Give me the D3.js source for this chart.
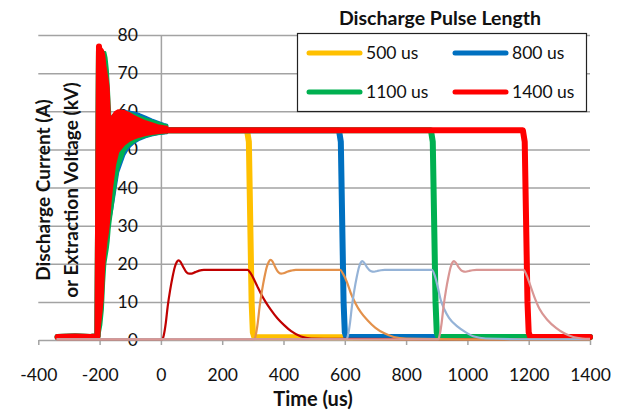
<!DOCTYPE html>
<html>
<head>
<meta charset="utf-8">
<script src="https://cdn.jsdelivr.net/npm/d3@7/dist/d3.min.js"></script>
<style>
  html, body { margin: 0; padding: 0; background: #fff; }
  svg { display: block; font-family: Lato, "Open Sans", sans-serif; }
</style>
</head>
<body>
<script>
// ---- axes ----
const xTicks = [-400, -200, 0, 200, 400, 600, 800, 1000, 1200, 1400];
const yTicks = [0, 10, 20, 30, 40, 50, 60, 70, 80];

// ---- legend ----
const pulseLabels = ["500 us", "800 us", "1100 us", "1400 us"];
const voltColors = ["#FFC000", "#0070C0", "#00B050", "#FF0000"];
const currentColors = ["#C00000", "#E3914B", "#95B3D7", "#D99694"];

// ---- extraction voltage traces (kV) ----
const volt500T = [-337, -280, -230, -207, -202, -195, 0, 100, 200, 281, 287, 296, 300, 305, 400, 700, 1000, 1400];
const volt500V = [0.8, 0.9, 0.8, 1.0, 76, 55, 55, 55, 55, 55, 52, 10, 2, 0.7, 0.7, 0.7, 0.7, 0.7];
const volt800T = [-337, -280, -230, -207, -202, -195, 0, 200, 400, 581, 587, 596, 600, 605, 800, 1100, 1400];
const volt800V = [0.8, 0.9, 0.8, 1.0, 76, 55, 55, 55, 55, 55, 52, 10, 2, 0.8, 0.8, 0.8, 0.8];
const volt1100T = [-337, -280, -230, -207, -202, -195, 0, 300, 600, 881, 887, 896, 900, 905, 1100, 1400];
const volt1100V = [0.8, 0.9, 0.8, 1.0, 76, 55, 55, 55, 55, 55, 52, 10, 2, 0.8, 0.8, 0.8];
const volt1400T = [-337, -280, -230, -207, -202, -195, 0, 300, 600, 900, 1181, 1187, 1196, 1200, 1205, 1300, 1400];
const volt1400V = [0.8, 0.9, 0.8, 1.0, 77, 55, 55, 55, 55, 55, 55, 52, 10, 2, 0.8, 0.8, 0.8];

// ringing band after switch-on: time (us) with upper / lower envelope (kV)
const ringT = [-202, -195, -190, -186, -182, -178, -174, -171, -168, -165, -160, -150, -140, -120, -105, -90, -70, -50, -30, -10, 10, 20];
const ring500Hi = [75, 75, 74, 73, 70, 66, 63, 60, 58, 57, 58, 59, 59.4, 59.4, 59, 58.4, 57.6, 57, 56.5, 56.2, 56, 56];
const ring500Lo = [40, 36, 33, 31, 30, 31, 32, 34, 36, 38, 41, 45, 48, 50.5, 51.5, 52.3, 53, 53.5, 53.9, 54.1, 54.3, 54.4];
const ring800Hi = [75, 75, 74, 73, 70, 66, 63, 60, 58, 57.5, 58.5, 59.4, 59.8, 60, 59.9, 59.7, 59.2, 58.5, 57.8, 57.2, 56.6, 56.4];
const ring800Lo = [40, 36, 33, 31, 30, 29.5, 29.5, 30, 31, 32, 34, 39, 44, 48.5, 50.5, 51.6, 52.6, 53.2, 53.7, 54, 54.2, 54.3];
const ring1100Hi = [75.5, 75.6, 75.6, 75.5, 75.5, 74, 71, 67, 62, 58, 58.5, 59.2, 59.7, 59.8, 59.6, 59.2, 58.6, 58, 57.5, 57, 56.5, 56.3];
const ring1100Lo = [1, 4, 8, 15, 20, 22, 24, 26, 29, 31, 34, 40, 45, 49.5, 51, 51.9, 52.8, 53.4, 53.8, 54.1, 54.3, 54.4];
const ring1400Hi = [77, 76.5, 76, 75, 72, 70, 68, 66, 60, 57, 58.5, 59.7, 60.2, 60, 59.5, 58.8, 58, 57.3, 56.8, 56.3, 56, 55.9];
const ring1400Lo = [2, 7, 11, 19, 23, 26, 28, 30, 33, 36, 40, 46, 49.3, 51.3, 52.2, 52.8, 53.4, 53.8, 54.1, 54.3, 54.5, 54.5];

// ---- discharge current traces (A) ----
const cur500T = [-340, 5, 10, 16, 22, 30, 38, 45, 52, 58, 64, 72, 82, 92, 100, 112, 125, 140, 200, 283, 292, 305, 315, 326, 340, 359, 380, 402, 425, 457, 490, 600, 1000, 1400];
const cur500A = [0.2, 0.2, 1.5, 4.5, 8.7, 13, 16.5, 19, 20.5, 20.9, 20.5, 19.3, 17.9, 17.4, 17.4, 17.8, 18.2, 18.4, 18.4, 18.4, 17.6, 15.7, 14, 12.2, 10.2, 7.9, 5.7, 3.9, 2.3, 0.9, 0.4, 0.3, 0.2, 0.2];
const cur800T = [-340, 305, 310, 316, 322, 330, 338, 345, 352, 358, 364, 372, 382, 392, 400, 412, 425, 440, 500, 585, 594, 607, 620, 635, 652, 674, 700, 729, 760, 800, 1000, 1400];
const cur800A = [0.2, 0.2, 1.5, 4.5, 8.7, 13, 16.5, 19, 20.5, 21, 20.6, 19.3, 17.9, 17.4, 17.5, 17.9, 18.2, 18.4, 18.4, 18.4, 17.4, 15.2, 12.2, 9.6, 7.3, 5.2, 3.2, 1.75, 0.8, 0.4, 0.2, 0.2];
const cur1100T = [-340, 606, 611, 617, 623, 631, 639, 646, 652, 657, 663, 672, 684, 696, 706, 718, 730, 745, 800, 884, 893, 903, 913, 925, 940, 968, 995, 1022, 1060, 1200, 1400];
const cur1100A = [0.2, 0.2, 1.5, 4.5, 8.7, 13, 16.5, 19, 20.3, 20.7, 20.3, 19.1, 18.1, 17.9, 18.1, 18.3, 18.4, 18.4, 18.4, 18.4, 17, 14, 10.5, 8, 5.8, 3.5, 2, 0.9, 0.4, 0.2, 0.2];
const cur1400T = [-340, 905, 910, 916, 922, 930, 938, 945, 951, 956, 962, 971, 983, 995, 1005, 1017, 1030, 1045, 1100, 1183, 1192, 1204, 1218, 1235, 1262, 1290, 1316, 1345, 1375, 1400];
const cur1400A = [0.2, 0.2, 1.5, 4.5, 8.7, 13, 16.5, 19, 20.3, 20.7, 20.3, 19.1, 18.1, 17.9, 18.1, 18.3, 18.4, 18.4, 18.4, 18.4, 17.2, 14.6, 11.4, 8.2, 5.2, 3.1, 1.75, 0.8, 0.4, 0.3];

const W = 621, H = 412;
const svg = d3.select("body").append("svg").attr("width", W).attr("height", H);

const x = d3.scaleLinear().domain([-400, 1400]).range([38.3, 590]);
const y = d3.scaleLinear().domain([0, 80]).range([340, 35]);
const gridColor = "#a3a3a3";
const plainNum = d => String(d);

// horizontal gridlines
const grid = svg.append("g")
  .attr("transform", `translate(${x(-400)},0)`)
  .call(d3.axisRight(y).tickValues(yTicks.filter(v => v > 0))
    .tickSize(x(1400) - x(-400)).tickFormat(""));
grid.select(".domain").remove();
grid.selectAll("line").attr("stroke", gridColor).attr("stroke-width", 1.5);

// vertical axis line at time 0 with its labels
const yAxis = svg.append("g")
  .attr("transform", `translate(${x(0)},0)`)
  .call(d3.axisLeft(y).tickValues(yTicks).tickFormat(plainNum).tickSize(0).tickPadding(23));
yAxis.select(".domain").attr("stroke", gridColor).attr("stroke-width", 1.5);
yAxis.selectAll("text").attr("font-size", 17.5).attr("fill", "#111")
  .style("font-family", "Lato, sans-serif");

// time axis
const xAxis = svg.append("g")
  .attr("transform", `translate(0,${y(0)})`)
  .call(d3.axisBottom(x).tickValues(xTicks).tickFormat(plainNum)
    .tickSize(5).tickSizeOuter(0).tickPadding(24));
xAxis.select(".domain").attr("stroke", gridColor).attr("stroke-width", 1.5);
xAxis.selectAll("line").attr("stroke", gridColor).attr("stroke-width", 1.5);
xAxis.selectAll("text").attr("font-size", 17.5).attr("fill", "#111")
  .style("font-family", "Lato, sans-serif");

// voltage traces: ringing band + thick line
const voltSeries = [
  { t: volt500T, v: volt500V, hi: ring500Hi, lo: ring500Lo },
  { t: volt800T, v: volt800V, hi: ring800Hi, lo: ring800Lo },
  { t: volt1100T, v: volt1100V, hi: ring1100Hi, lo: ring1100Lo },
  { t: volt1400T, v: volt1400V, hi: ring1400Hi, lo: ring1400Lo }
];
const band = d3.area().x(d => x(d.t)).y0(d => y(d.lo)).y1(d => y(d.hi));
const vLine = d3.line().x(d => x(d.t)).y(d => y(d.v));
const traces = svg.append("g");
voltSeries.forEach((s, i) => {
  const ring = ringT.map((t, k) => ({ t, hi: s.hi[k], lo: s.lo[k] }));
  traces.append("path").attr("d", band(ring))
    .attr("fill", voltColors[i]).attr("stroke", voltColors[i])
    .attr("stroke-width", 2.5).attr("stroke-linejoin", "round");
  traces.append("path").attr("d", vLine(s.t.map((t, k) => ({ t, v: s.v[k] }))))
    .attr("fill", "none").attr("stroke", voltColors[i])
    .attr("stroke-width", 6).attr("stroke-linejoin", "round").attr("stroke-linecap", "round");
});

// current traces
const curSeries = [
  { t: cur500T, a: cur500A }, { t: cur800T, a: cur800A },
  { t: cur1100T, a: cur1100A }, { t: cur1400T, a: cur1400A }
];
const cLine = d3.line().x(d => x(d.t)).y(d => y(d.a)).curve(d3.curveMonotoneX);
curSeries.forEach((s, i) => {
  traces.append("path").attr("d", cLine(s.t.map((t, k) => ({ t, a: s.a[k] }))))
    .attr("fill", "none").attr("stroke", currentColors[i])
    .attr("stroke-width", 2.2).attr("stroke-linejoin", "round");
});

// axis titles
svg.append("text").attr("x", 313).attr("y", 406).attr("text-anchor", "middle")
  .attr("font-size", 20).attr("font-weight", "bold").attr("fill", "#111")
  .text("Time (us)");
const yTitle = svg.append("text")
  .attr("transform", "translate(0,190) rotate(-90)")
  .attr("text-anchor", "middle").attr("font-size", 19).attr("font-weight", "bold").attr("fill", "#111");
yTitle.append("tspan").attr("x", 0).attr("y", 50).text("Discharge Current (A)");
yTitle.append("tspan").attr("x", 0).attr("y", 78).text("or Extraction Voltage (kV)");

// legend
svg.append("text").attr("x", 440).attr("y", 25).attr("text-anchor", "middle")
  .attr("font-size", 19.5).attr("font-weight", "bold").attr("fill", "#111")
  .text("Discharge Pulse Length");
const legend = svg.append("g");
legend.append("rect").attr("x", 297.5).attr("y", 33.5).attr("width", 289).attr("height", 78)
  .attr("fill", "#fff").attr("stroke", "#222").attr("stroke-width", 1.2);
const legendPos = [[307, 53], [453, 53], [307, 92], [453, 92]];
pulseLabels.forEach((lab, i) => {
  const [lx, ly] = legendPos[i];
  legend.append("line").attr("x1", lx + 2).attr("x2", lx + 53).attr("y1", ly).attr("y2", ly)
    .attr("stroke", voltColors[i]).attr("stroke-width", 5).attr("stroke-linecap", "round");
  legend.append("text").attr("x", lx + 59).attr("y", ly + 6).attr("font-size", 17.5)
    .attr("fill", "#111").text(lab);
});
</script>
</body>
</html>
